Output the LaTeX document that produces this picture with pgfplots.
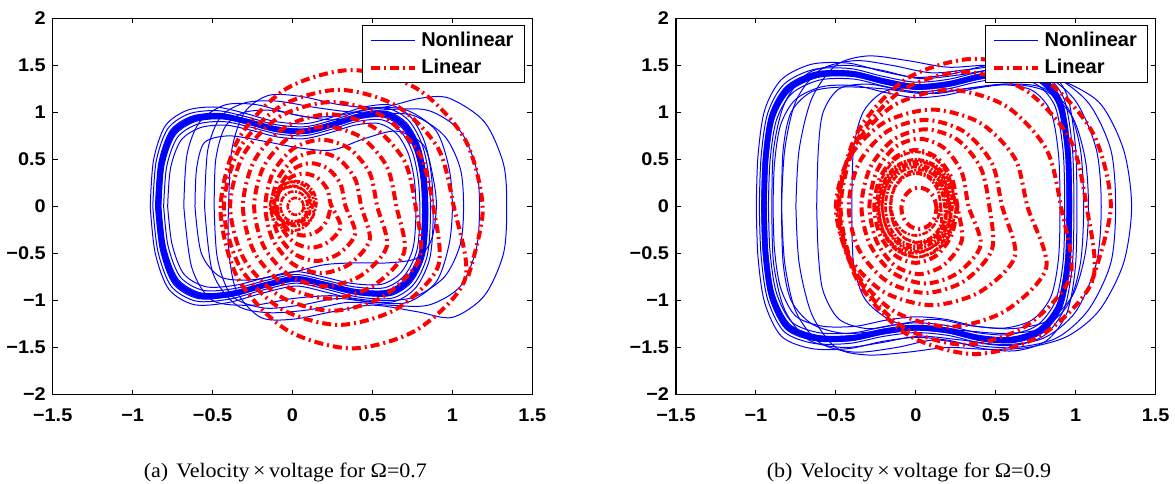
\documentclass[border=0pt]{standalone}
\usepackage{fontspec}
\usepackage{pgfplots}
\pgfplotsset{compat=1.18}
\setmainfont{Liberation Serif}
\newfontfamily\tickfont{Liberation Sans}[FakeStretch=1.08]
\newfontfamily\legfont{Liberation Sans}
\newfontfamily\capfont{Liberation Serif}[FakeStretch=1.07]

\pgfplotsset{
  phase/.style={
    scale only axis, width=239.8bp, height=188.1bp,
    xmin=-1.5,xmax=1.5,ymin=-2,ymax=2,
    xtick={-1.5,-1,-0.5,0,0.5,1,1.5},
    xticklabels={−1.5,−1,−0.5,0,0.5,1,1.5},
    ytick={-2,-1.5,-1,-0.5,0,0.5,1,1.5,2},
    yticklabels={−2,−1.5,−1,−0.5,0,0.5,1,1.5,2},
    tick align=inside,
    major tick length=2.5bp,
    tick style={line width=0.5bp, black},
    axis line style={line width=0.6bp},
    tick label style={font=\tickfont\bfseries\fontsize{9.2bp}{11bp}\selectfont},
    xticklabel style={yshift=-3.5bp},
    legend style={at={(0.984,0.982)}, anchor=north east, draw=black, line width=0.5bp,
      font=\legfont\bfseries\fontsize{10bp}{12bp}\selectfont,
      inner xsep=3bp, inner ysep=1bp, nodes={inner sep=2.3bp}},
    legend cell align=left,
    legend image code/.code={\draw[#1] (0bp,0bp) -- (22bp,0bp);},
  },
  nl/.style={blue, line width=0.5bp, smooth, forget plot},
  nlcore/.style={blue, line width=2.8bp, smooth, forget plot},
  lin/.style={red, line width=2bp, smooth, dash pattern=on 4.5bp off 2bp on 1bp off 2bp, forget plot},
  lind/.style={red, line width=1.3bp, smooth, dash pattern=on 3bp off 0.8bp on 1bp off 0.8bp, forget plot},
}

\begin{document}
\begin{tikzpicture}
\useasboundingbox (0,0) rectangle (587.5bp,242bp);

% ---------------- (a) Omega = 0.7 ----------------
\begin{axis}[phase, at={(26.35bp,44.75bp)}, anchor=south west]
\addlegendimage{blue, line width=0.5bp}
\addlegendentry{Nonlinear}
\addlegendimage{red, line width=2bp, dash pattern=on 4.5bp off 2bp on 1bp off 2bp}
\addlegendentry{Linear}
% transients
\addplot[nl] coordinates {(-0.40,0) (-0.38,0.6) (-0.3,1.0) (-0.15,1.18) (0.05,1.17) (0.3,1.08) (0.55,1.05) (0.8,1.15) (0.98,1.15) (1.2,0.9) (1.32,0.45) (1.34,0) (1.32,-0.5) (1.2,-0.95) (1.0,-1.18) (0.78,-1.12) (0.5,-1.05) (0.25,-1.12) (0.0,-1.2) (-0.2,-1.18) (-0.35,-0.9) (-0.4,-0.45) (-0.40,0)};
\addplot[nl] coordinates {(-0.55,0) (-0.53,0.6) (-0.45,0.95) (-0.3,1.1) (-0.1,1.12) (0.15,1.05) (0.4,1.0) (0.6,1.03) (0.85,1.02) (1.05,0.8) (1.15,0.4) (1.17,0) (1.15,-0.45) (1.05,-0.85) (0.85,-1.05) (0.6,-1.05) (0.35,-1.02) (0.1,-1.1) (-0.15,-1.13) (-0.35,-1.05) (-0.5,-0.7) (-0.55,0)};
\addplot[nl] coordinates {(-0.68,0) (-0.66,0.55) (-0.58,0.9) (-0.42,1.08) (-0.22,1.08) (0.0,0.98) (0.25,0.92) (0.5,0.98) (0.75,0.97) (0.95,0.75) (1.05,0.4) (1.07,0) (1.05,-0.4) (0.95,-0.75) (0.75,-0.97) (0.5,-1.0) (0.25,-0.95) (0.0,-0.98) (-0.25,-1.05) (-0.5,-1.0) (-0.63,-0.65) (-0.68,0)};
\addplot[nl] coordinates {(-0.61,0) (-0.6,0.4) (-0.55,0.68) (-0.4,0.75) (-0.2,0.7) (0.05,0.62) (0.25,0.6) (0.45,0.72) (0.65,0.8) (0.82,0.65) (0.88,0.3) (0.9,0) (0.87,-0.35) (0.78,-0.55) (0.6,-0.6) (0.4,-0.6) (0.2,-0.62) (0.0,-0.7) (-0.25,-0.78) (-0.45,-0.75) (-0.57,-0.5) (-0.61,0)};
\addplot[nl] coordinates {(-0.49,0) (-0.48,0.5) (-0.42,0.85) (-0.3,1.0) (-0.12,1.02) (0.1,0.95) (0.3,0.97) (0.52,1.05) (0.72,1.02) (0.9,0.8) (0.98,0.4) (1.0,0) (0.98,-0.4) (0.9,-0.8) (0.72,-1.02) (0.5,-1.02) (0.28,-0.98) (0.05,-1.05) (-0.18,-1.08) (-0.38,-0.95) (-0.47,-0.55) (-0.49,0)};
% limit-cycle band
\addplot[nlcore] coordinates {(-0.84,0) (-0.82,0.45) (-0.75,0.78) (-0.62,0.93) (-0.45,0.96) (-0.28,0.90) (-0.10,0.82) (0.08,0.80) (0.25,0.87) (0.42,0.96) (0.58,0.98) (0.70,0.86) (0.78,0.62) (0.82,0.30) (0.83,-0.10) (0.81,-0.50) (0.73,-0.78) (0.60,-0.92) (0.40,-0.91) (0.20,-0.83) (0.02,-0.77) (-0.18,-0.84) (-0.38,-0.93) (-0.58,-0.95) (-0.73,-0.80) (-0.81,-0.45) (-0.84,0)};
\addplot[nl] coordinates {(-0.874,0) (-0.853,0.477) (-0.78,0.827) (-0.645,0.986) (-0.468,1.018) (-0.291,0.954) (-0.104,0.869) (0.083,0.848) (0.26,0.922) (0.437,1.018) (0.603,1.039) (0.728,0.912) (0.811,0.657) (0.853,0.318) (0.863,-0.106) (0.842,-0.53) (0.759,-0.827) (0.624,-0.975) (0.416,-0.965) (0.208,-0.88) (0.021,-0.816) (-0.187,-0.89) (-0.395,-0.986) (-0.603,-1.007) (-0.759,-0.848) (-0.842,-0.477) (-0.874,0)};
\addplot[nl] coordinates {(-0.806,0) (-0.787,0.423) (-0.72,0.733) (-0.595,0.874) (-0.432,0.902) (-0.269,0.846) (-0.096,0.771) (0.077,0.752) (0.24,0.818) (0.403,0.902) (0.557,0.921) (0.672,0.808) (0.749,0.583) (0.787,0.282) (0.797,-0.094) (0.778,-0.47) (0.701,-0.733) (0.576,-0.865) (0.384,-0.855) (0.192,-0.78) (0.019,-0.724) (-0.173,-0.79) (-0.365,-0.874) (-0.557,-0.893) (-0.701,-0.752) (-0.778,-0.423) (-0.806,0)};
\addplot[nl] coordinates {(-0.857,0) (-0.836,0.464) (-0.765,0.803) (-0.632,0.958) (-0.459,0.989) (-0.286,0.927) (-0.102,0.845) (0.082,0.824) (0.255,0.896) (0.428,0.989) (0.592,1.009) (0.714,0.886) (0.796,0.639) (0.836,0.309) (0.847,-0.103) (0.826,-0.515) (0.745,-0.803) (0.612,-0.948) (0.408,-0.937) (0.204,-0.855) (0.02,-0.793) (-0.184,-0.865) (-0.388,-0.958) (-0.592,-0.979) (-0.745,-0.824) (-0.826,-0.464) (-0.857,0)};
\addplot[nl] coordinates {(-0.823,0) (-0.804,0.437) (-0.735,0.757) (-0.608,0.902) (-0.441,0.931) (-0.274,0.873) (-0.098,0.795) (0.078,0.776) (0.245,0.844) (0.412,0.931) (0.568,0.951) (0.686,0.834) (0.764,0.601) (0.804,0.291) (0.813,-0.097) (0.794,-0.485) (0.715,-0.757) (0.588,-0.892) (0.392,-0.883) (0.196,-0.805) (0.02,-0.747) (-0.176,-0.815) (-0.372,-0.902) (-0.568,-0.922) (-0.715,-0.776) (-0.794,-0.437) (-0.823,0)};
\addplot[nl] coordinates {(-0.89,0) (-0.869,0.495) (-0.795,0.858) (-0.657,1.023) (-0.477,1.056) (-0.297,0.99) (-0.106,0.902) (0.085,0.88) (0.265,0.957) (0.445,1.056) (0.615,1.078) (0.742,0.946) (0.827,0.682) (0.869,0.33) (0.88,-0.11) (0.859,-0.55) (0.774,-0.858) (0.636,-1.012) (0.424,-1.001) (0.212,-0.913) (0.021,-0.847) (-0.191,-0.924) (-0.403,-1.023) (-0.615,-1.045) (-0.774,-0.88) (-0.859,-0.495) (-0.89,0)};
\addplot[nl] coordinates {(-0.781,0) (-0.763,0.405) (-0.698,0.702) (-0.577,0.837) (-0.419,0.864) (-0.26,0.81) (-0.093,0.738) (0.074,0.72) (0.233,0.783) (0.391,0.864) (0.539,0.882) (0.651,0.774) (0.725,0.558) (0.763,0.27) (0.772,-0.09) (0.753,-0.45) (0.679,-0.702) (0.558,-0.828) (0.372,-0.819) (0.186,-0.747) (0.019,-0.693) (-0.167,-0.756) (-0.353,-0.837) (-0.539,-0.855) (-0.679,-0.72) (-0.753,-0.405) (-0.781,0)};
% linear response
\addplot[lin] coordinates {(1.10,-0.74) (1.19,-0.03) (1.08,0.71) (0.78,1.25) (0.37,1.45) (-0.04,1.25) (-0.34,0.71) (-0.45,-0.03) (-0.34,-0.77) (-0.04,-1.31) (0.37,-1.51) (0.78,-1.31) (1.08,-0.77)
(1.01,-0.01) (0.91,0.62) (0.65,1.07) (0.29,1.24) (-0.07,1.07) (-0.33,0.62) (-0.43,-0.01) (-0.33,-0.64) (-0.07,-1.09) (0.29,-1.26) (0.65,-1.09) (0.91,-0.64)
(0.88,0) (0.795,0.555) (0.563,0.961) (0.245,1.11) (-0.073,0.961) (-0.305,0.555) (-0.39,0) (-0.305,-0.555) (-0.073,-0.961) (0.245,-1.11) (0.563,-0.961) (0.795,-0.555)
(0.77,0) (0.698,0.49) (0.50,0.849) (0.23,0.98) (-0.04,0.849) (-0.238,0.49) (-0.31,0) (-0.238,-0.49) (-0.04,-0.849) (0.23,-0.98) (0.50,-0.849) (0.698,-0.49)
(0.65,0) (0.59,0.425) (0.428,0.736) (0.205,0.85) (-0.018,0.736) (-0.18,0.425) (-0.24,0) (-0.18,-0.425) (-0.018,-0.736) (0.205,-0.85) (0.428,-0.736) (0.59,-0.425)
(0.53,0) (0.483,0.355) (0.355,0.615) (0.18,0.71) (0.005,0.615) (-0.123,0.355) (-0.17,0) (-0.123,-0.355) (0.005,-0.615) (0.18,-0.71) (0.355,-0.615) (0.483,-0.355)
(0.43,0) (0.392,0.29) (0.29,0.502) (0.15,0.58) (0.01,0.502) (-0.092,0.29) (-0.13,0) (-0.092,-0.29) (0.01,-0.502) (0.15,-0.58) (0.29,-0.502) (0.392,-0.29)
(0.33,0.01) (0.301,0.235) (0.223,0.40) (0.115,0.46) (0.007,0.40) (-0.071,0.235) (-0.10,0.01) (-0.071,-0.215) (0.007,-0.38) (0.115,-0.44) (0.223,-0.38) (0.301,-0.215)
(0.24,0.02) (0.217,0.185) (0.155,0.306) (0.07,0.35) (-0.015,0.306) (-0.077,0.185) (-0.10,0.02) (-0.077,-0.145) (-0.015,-0.266) (0.07,-0.31) (0.155,-0.266) (0.217,-0.145) (0.24,0.02)};
\addplot[lind] coordinates {(0.14,0) (0.121,0.13) (0.07,0.225) (0,0.26) (-0.07,0.225) (-0.121,0.13) (-0.14,0) (-0.121,-0.13) (-0.07,-0.225) (0,-0.26) (0.07,-0.225) (0.121,-0.13)
(0.15,0.03) (0.133,0.15) (0.085,0.238) (0.02,0.27) (-0.045,0.238) (-0.093,0.15) (-0.11,0.03) (-0.093,-0.09) (-0.045,-0.178) (0.02,-0.21) (0.085,-0.178) (0.133,-0.09)
(0.12,0.01) (0.104,0.11) (0.06,0.183) (0,0.21) (-0.06,0.183) (-0.104,0.11) (-0.12,0.01) (-0.104,-0.09) (-0.06,-0.163) (0,-0.19) (0.06,-0.163) (0.104,-0.09)
(0.11,0.02) (0.095,0.12) (0.055,0.193) (0,0.22) (-0.055,0.193) (-0.095,0.12) (-0.11,0.02) (-0.095,-0.08) (-0.055,-0.153) (0,-0.18) (0.055,-0.153) (0.095,-0.08)
(0.095,0) (0.084,0.08) (0.053,0.139) (0.01,0.16) (-0.033,0.139) (-0.064,0.08) (-0.075,0) (-0.064,-0.08) (-0.033,-0.139) (0.01,-0.16) (0.053,-0.139) (0.084,-0.08)
(0.07,0) (0.063,0.045) (0.045,0.078) (0.02,0.09) (-0.005,0.078) (-0.023,0.045) (-0.03,0) (-0.023,-0.045) (-0.005,-0.078) (0.02,-0.09) (0.045,-0.078) (0.063,-0.045) (0.07,0)};
\end{axis}

% ---------------- (b) Omega = 0.9 ----------------
\begin{axis}[phase, at={(338bp,44.75bp)}, anchor=south west]
\addlegendimage{blue, line width=0.5bp}
\addlegendentry{Nonlinear}
\addlegendimage{red, line width=2bp, dash pattern=on 4.5bp off 2bp on 1bp off 2bp}
\addlegendentry{Linear}
% transients
\addplot[nl] coordinates {(-0.75,0) (-0.73,0.6) (-0.65,1.15) (-0.5,1.5) (-0.3,1.6) (-0.05,1.55) (0.2,1.48) (0.45,1.5) (0.7,1.45) (0.9,1.35) (1.15,1.1) (1.3,0.6) (1.35,0) (1.3,-0.6) (1.15,-1.1) (0.95,-1.38) (0.7,-1.5) (0.45,-1.52) (0.2,-1.5) (-0.05,-1.55) (-0.3,-1.58) (-0.5,-1.5) (-0.65,-1.15) (-0.73,-0.6) (-0.75,0)};
\addplot[nl] coordinates {(-0.84,0) (-0.82,0.6) (-0.75,1.12) (-0.6,1.45) (-0.38,1.55) (-0.15,1.5) (0.1,1.42) (0.35,1.46) (0.6,1.5) (0.85,1.4) (1.08,1.1) (1.22,0.6) (1.25,0) (1.22,-0.6) (1.08,-1.1) (0.88,-1.4) (0.62,-1.5) (0.38,-1.48) (0.12,-1.42) (-0.12,-1.5) (-0.38,-1.55) (-0.6,-1.45) (-0.75,-1.12) (-0.82,-0.6) (-0.84,0)};
\addplot[nl] coordinates {(-0.9,0) (-0.89,0.6) (-0.82,1.1) (-0.67,1.42) (-0.45,1.5) (-0.22,1.45) (0.02,1.36) (0.28,1.4) (0.55,1.47) (0.8,1.4) (1.0,1.12) (1.13,0.6) (1.16,0) (1.13,-0.6) (1.0,-1.12) (0.8,-1.4) (0.55,-1.47) (0.28,-1.42) (0.02,-1.38) (-0.22,-1.45) (-0.45,-1.5) (-0.67,-1.42) (-0.82,-1.1) (-0.89,-0.6) (-0.9,0)};
\addplot[nl] coordinates {(-0.62,0) (-0.61,0.6) (-0.58,1.0) (-0.48,1.25) (-0.3,1.3) (-0.1,1.24) (0.12,1.2) (0.35,1.26) (0.6,1.3) (0.82,1.22) (0.98,0.95) (1.06,0.5) (1.08,0) (1.06,-0.5) (0.98,-0.95) (0.82,-1.22) (0.6,-1.3) (0.35,-1.27) (0.12,-1.2) (-0.1,-1.25) (-0.3,-1.3) (-0.48,-1.2) (-0.58,-0.9) (-0.61,-0.5) (-0.62,0)};
\addplot[nl] coordinates {(-0.40,0) (-0.39,0.6) (-0.33,1.0) (-0.2,1.22) (0,1.27) (0.2,1.3) (0.4,1.38) (0.6,1.42) (0.78,1.35) (0.9,1.1) (0.95,0.6) (0.96,0) (0.95,-0.6) (0.9,-1.05) (0.78,-1.32) (0.6,-1.42) (0.4,-1.4) (0.2,-1.32) (0,-1.29) (-0.17,-1.2) (-0.32,-0.98) (-0.39,-0.6) (-0.40,0)};
\addplot[nl] coordinates {(-0.84,0) (-0.83,0.6) (-0.78,1.0) (-0.65,1.22) (-0.45,1.27) (-0.2,1.25) (0.05,1.2) (0.3,1.25) (0.55,1.3) (0.78,1.27) (0.95,1.05) (1.03,0.6) (1.05,0) (1.03,-0.6) (0.95,-1.05) (0.78,-1.3) (0.55,-1.35) (0.3,-1.32) (0.05,-1.28) (-0.2,-1.32) (-0.45,-1.35) (-0.65,-1.25) (-0.78,-1.0) (-0.83,-0.6) (-0.84,0)};
% limit-cycle band
\addplot[nlcore] coordinates {(-0.95,0) (-0.94,0.5) (-0.90,0.95) (-0.80,1.25) (-0.62,1.40) (-0.40,1.41) (-0.20,1.33) (0,1.27) (0.20,1.30) (0.40,1.38) (0.60,1.42) (0.78,1.35) (0.90,1.10) (0.95,0.60) (0.96,0) (0.95,-0.60) (0.90,-1.05) (0.78,-1.32) (0.60,-1.42) (0.40,-1.40) (0.20,-1.32) (0,-1.29) (-0.20,-1.33) (-0.40,-1.40) (-0.62,-1.40) (-0.80,-1.28) (-0.90,-0.95) (-0.94,-0.50) (-0.95,0)};
\addplot[nl] coordinates {(-0.979,0) (-0.968,0.52) (-0.927,0.988) (-0.824,1.30) (-0.639,1.456) (-0.412,1.466) (-0.206,1.383) (0,1.321) (0.206,1.352) (0.412,1.435) (0.618,1.477) (0.803,1.404) (0.927,1.144) (0.979,0.624) (0.989,0) (0.979,-0.624) (0.927,-1.092) (0.803,-1.373) (0.618,-1.477) (0.412,-1.456) (0.206,-1.373) (0,-1.342) (-0.206,-1.383) (-0.412,-1.456) (-0.639,-1.456) (-0.824,-1.331) (-0.927,-0.988) (-0.968,-0.52) (-0.979,0)};
\addplot[nl] coordinates {(-0.922,0) (-0.912,0.48) (-0.873,0.912) (-0.776,1.20) (-0.601,1.344) (-0.388,1.354) (-0.194,1.277) (0,1.219) (0.194,1.248) (0.388,1.325) (0.582,1.363) (0.757,1.296) (0.873,1.056) (0.922,0.576) (0.931,0) (0.922,-0.576) (0.873,-1.008) (0.757,-1.267) (0.582,-1.363) (0.388,-1.344) (0.194,-1.267) (0,-1.238) (-0.194,-1.277) (-0.388,-1.344) (-0.601,-1.344) (-0.776,-1.229) (-0.873,-0.912) (-0.912,-0.48) (-0.922,0)};
\addplot[nl] coordinates {(-0.964,0) (-0.954,0.51) (-0.914,0.969) (-0.812,1.275) (-0.629,1.428) (-0.406,1.438) (-0.203,1.357) (0,1.295) (0.203,1.326) (0.406,1.408) (0.609,1.448) (0.792,1.377) (0.914,1.122) (0.964,0.612) (0.974,0) (0.964,-0.612) (0.914,-1.071) (0.792,-1.346) (0.609,-1.448) (0.406,-1.428) (0.203,-1.346) (0,-1.316) (-0.203,-1.357) (-0.406,-1.428) (-0.629,-1.428) (-0.812,-1.306) (-0.914,-0.969) (-0.954,-0.51) (-0.964,0)};
\addplot[nl] coordinates {(-0.936,0) (-0.926,0.49) (-0.887,0.931) (-0.788,1.225) (-0.611,1.372) (-0.394,1.382) (-0.197,1.303) (0,1.245) (0.197,1.274) (0.394,1.352) (0.591,1.392) (0.768,1.323) (0.887,1.078) (0.936,0.588) (0.946,0) (0.936,-0.588) (0.887,-1.029) (0.768,-1.294) (0.591,-1.392) (0.394,-1.372) (0.197,-1.294) (0,-1.264) (-0.197,-1.303) (-0.394,-1.372) (-0.611,-1.372) (-0.788,-1.254) (-0.887,-0.931) (-0.926,-0.49) (-0.936,0)};
\addplot[nl] coordinates {(-0.998,0) (-0.987,0.54) (-0.945,1.026) (-0.84,1.35) (-0.651,1.512) (-0.42,1.523) (-0.21,1.436) (0,1.372) (0.21,1.404) (0.42,1.49) (0.63,1.534) (0.819,1.458) (0.945,1.188) (0.998,0.648) (1.008,0) (0.998,-0.648) (0.945,-1.134) (0.819,-1.426) (0.63,-1.534) (0.42,-1.512) (0.21,-1.426) (0,-1.393) (-0.21,-1.436) (-0.42,-1.512) (-0.651,-1.512) (-0.84,-1.382) (-0.945,-1.026) (-0.987,-0.54) (-0.998,0)};
\addplot[nl] coordinates {(-0.893,0) (-0.884,0.455) (-0.846,0.865) (-0.752,1.138) (-0.583,1.274) (-0.376,1.283) (-0.188,1.21) (0,1.156) (0.188,1.183) (0.376,1.256) (0.564,1.292) (0.733,1.229) (0.846,1.001) (0.893,0.546) (0.902,0) (0.893,-0.546) (0.846,-0.956) (0.733,-1.201) (0.564,-1.292) (0.376,-1.274) (0.188,-1.201) (0,-1.174) (-0.188,-1.21) (-0.376,-1.274) (-0.583,-1.274) (-0.752,-1.165) (-0.846,-0.865) (-0.884,-0.455) (-0.893,0)};
% linear response
\addplot[lin] coordinates {(1.10,-0.80) (1.22,0) (1.106,0.785) (0.795,1.36) (0.37,1.57) (-0.055,1.36) (-0.366,0.785) (-0.48,0) (-0.366,-0.785) (-0.055,-1.36) (0.37,-1.57) (0.795,-1.36) (1.106,-0.785)
(1.07,-0.02) (0.967,0.705) (0.685,1.236) (0.30,1.43) (-0.085,1.236) (-0.367,0.705) (-0.47,-0.02) (-0.367,-0.745) (-0.085,-1.276) (0.30,-1.47) (0.685,-1.276) (0.967,-0.745)
(0.91,-0.02) (0.816,0.61) (0.56,1.071) (0.21,1.24) (-0.14,1.071) (-0.396,0.61) (-0.49,-0.02) (-0.396,-0.65) (-0.14,-1.111) (0.21,-1.28) (0.56,-1.111) (0.816,-0.65)
(0.70,-0.01) (0.62,0.51) (0.40,0.89) (0.10,1.03) (-0.20,0.89) (-0.42,0.51) (-0.50,-0.01) (-0.42,-0.53) (-0.20,-0.91) (0.10,-1.05) (0.40,-0.91) (0.62,-0.53)
(0.54,0) (0.476,0.46) (0.30,0.797) (0.06,0.92) (-0.18,0.797) (-0.356,0.46) (-0.42,0) (-0.356,-0.46) (-0.18,-0.797) (0.06,-0.92) (0.30,-0.797) (0.476,-0.46)
(0.46,0) (0.406,0.41) (0.26,0.71) (0.06,0.82) (-0.14,0.71) (-0.286,0.41) (-0.34,0) (-0.286,-0.41) (-0.14,-0.71) (0.06,-0.82) (0.26,-0.71) (0.406,-0.41)
(0.33,0) (0.288,0.36) (0.175,0.624) (0.02,0.72) (-0.135,0.624) (-0.248,0.36) (-0.29,0) (-0.248,-0.36) (-0.135,-0.624) (0.02,-0.72) (0.175,-0.624) (0.288,-0.36)
(0.26,0) (0.225,0.3) (0.13,0.52) (0,0.6) (-0.13,0.52) (-0.225,0.3) (-0.26,0) (-0.225,-0.3) (-0.13,-0.52) (0,-0.6) (0.13,-0.52) (0.225,-0.3) (0.26,0)};
\addplot[lind] coordinates {(0.245,0.02) (0.212,0.30) (0.123,0.505) (0,0.58) (-0.123,0.505) (-0.212,0.30) (-0.245,0.02) (-0.212,-0.26) (-0.123,-0.465) (0,-0.54) (0.123,-0.465) (0.212,-0.26)
(0.25,-0.02) (0.218,0.24) (0.13,0.43) (0.01,0.50) (-0.11,0.43) (-0.198,0.24) (-0.23,-0.02) (-0.198,-0.28) (-0.11,-0.47) (0.01,-0.54) (0.13,-0.47) (0.218,-0.28)
(0.215,0) (0.185,0.25) (0.103,0.433) (-0.01,0.5) (-0.123,0.433) (-0.205,0.25) (-0.235,0) (-0.205,-0.25) (-0.123,-0.433) (-0.01,-0.5) (0.103,-0.433) (0.185,-0.25)
(0.23,0) (0.201,0.24) (0.12,0.416) (0.01,0.48) (-0.10,0.416) (-0.181,0.24) (-0.21,0) (-0.181,-0.24) (-0.10,-0.416) (0.01,-0.48) (0.12,-0.416) (0.201,-0.24)
(0.21,0) (0.182,0.225) (0.105,0.39) (0,0.45) (-0.105,0.39) (-0.182,0.225) (-0.21,0) (-0.182,-0.225) (-0.105,-0.39) (0,-0.45) (0.105,-0.39) (0.182,-0.225)
(0.19,0) (0.165,0.21) (0.095,0.364) (0,0.42) (-0.095,0.364) (-0.165,0.21) (-0.19,0) (-0.165,-0.21) (-0.095,-0.364) (0,-0.42) (0.095,-0.364) (0.165,-0.21)
(0.20,0) (0.176,0.195) (0.11,0.338) (0.02,0.39) (-0.07,0.338) (-0.136,0.195) (-0.16,0) (-0.136,-0.195) (-0.07,-0.338) (0.02,-0.39) (0.11,-0.338) (0.176,-0.195)
(0.18,-0.01) (0.157,0.175) (0.095,0.31) (0.01,0.36) (-0.075,0.31) (-0.137,0.175) (-0.16,-0.01) (-0.137,-0.195) (-0.075,-0.33) (0.01,-0.38) (0.095,-0.33) (0.157,-0.195)
(0.155,0.02) (0.134,0.185) (0.078,0.306) (0,0.35) (-0.078,0.306) (-0.134,0.185) (-0.155,0.02) (-0.134,-0.145) (-0.078,-0.266) (0,-0.31) (0.078,-0.266) (0.134,-0.145) (0.155,0.02)};
\addplot[lin] coordinates {(0.13,-0.02) (0.115,0.09) (0.075,0.17) (0.02,0.20) (-0.035,0.17) (-0.075,0.09) (-0.09,-0.02) (-0.075,-0.13) (-0.035,-0.21) (0.02,-0.24) (0.075,-0.21) (0.115,-0.13) (0.13,-0.02)};
\end{axis}

\node[anchor=base, font=\capfont\fontsize{10.3bp}{12bp}\selectfont] at (142.7bp,3.35bp) {(a)\hspace{4bp}Velocity\,×\,voltage for Ω=0.7};
\node[anchor=base, font=\capfont\fontsize{10.3bp}{12bp}\selectfont] at (454.5bp,3.35bp) {(b)\hspace{4bp}Velocity\,×\,voltage for Ω=0.9};
\end{tikzpicture}
\end{document}
